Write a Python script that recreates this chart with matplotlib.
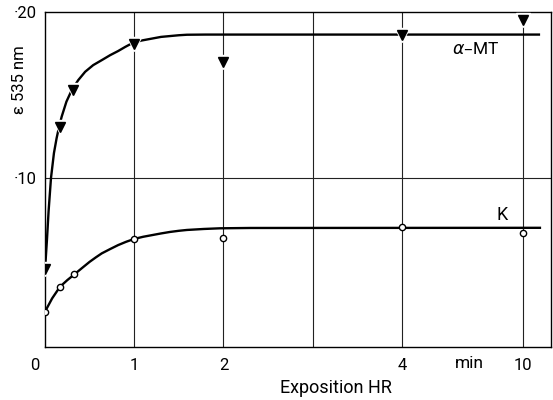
import numpy as np
import matplotlib
matplotlib.use('Agg')
import matplotlib.pyplot as plt
from matplotlib.transforms import ScaledTranslation

plt.rcParams['font.family'] = ['Roboto', 'DejaVu Sans']

# measured points (minutes, extinction)
mt_x = [0, 0.17, 0.31, 1, 2, 4, 10]
mt_y = [4.5, 13.1, 15.3, 18.1, 17.0, 18.6, 19.5]
k_x = [0, 0.17, 0.33, 1, 2, 4, 10]
k_y = [1.95, 3.45, 4.2, 6.3, 6.4, 7.05, 6.7]

# hand drawn curves
mt_curve_x = [0, 0.01, 0.022, 0.04, 0.067, 0.1, 0.13, 0.157, 0.187, 0.24, 0.30,
              0.373, 0.45, 0.54, 0.636, 0.73, 0.82, 0.9, 0.97, 1.08, 1.2,
              1.3, 1.4, 1.5, 1.59, 1.8, 2.0, 10.8]
mt_curve_y = [4.5, 5.3, 6.3, 8.0, 10.0, 11.5, 12.4, 13.07, 13.7, 14.6, 15.3,
              15.9, 16.4, 16.8, 17.1, 17.4, 17.65, 17.9, 18.1, 18.28, 18.4,
              18.5, 18.55, 18.6, 18.63, 18.64, 18.64, 18.64]
k_curve_x = [0, 0.08, 0.168, 0.25, 0.33, 0.42, 0.5, 0.57, 0.636, 0.73, 0.82,
             0.91, 1.0, 1.1, 1.21, 1.3, 1.4, 1.5, 1.59, 1.78, 1.96, 2.3, 10.85]
k_curve_y = [1.95, 2.75, 3.45, 3.85, 4.2, 4.6, 4.95, 5.22, 5.46, 5.72, 5.96,
             6.16, 6.33, 6.46, 6.57, 6.66, 6.75, 6.82, 6.87, 6.93, 6.97, 6.99, 7.0]

x_ticks = [0, 1, 2, 4, 10]
x_grid = [1, 2, 3, 4, 10]
y_ticks = [10, 20]

# axis is linear up to 4 min, then compressed
def fwd(x):
    x = np.asarray(x, dtype=float)
    return np.where(x <= 4, x, 4 + (x - 4) * 1.355 / 6)


def inv(u):
    u = np.asarray(u, dtype=float)
    return np.where(u <= 4, u, 4 + (u - 4) * 6 / 1.355)


fig = plt.figure(figsize=(5.53, 4.0), dpi=100)
ax = fig.add_axes([0.0814, 0.1325, 0.915, 0.8375])
ax.set_xscale('function', functions=(fwd, inv))
ax.set_xlim(0, 11.4)
ax.set_ylim(-0.18, 20)

for x in x_grid:
    ax.axvline(x, color='#222222', lw=0.8, zorder=1)
ax.axhline(10, color='#222222', lw=0.8, zorder=1)

ax.plot(mt_curve_x, mt_curve_y, color='black', lw=1.7, zorder=2)
ax.plot(k_curve_x, k_curve_y, color='black', lw=1.7, zorder=2)

ax.plot(mt_x, mt_y, ls='none', marker='v', ms=10, color='white', zorder=3)
ax.plot(mt_x, mt_y, ls='none', marker='v', ms=7, color='black', zorder=4)
ax.plot(k_x, k_y, ls='none', marker='o', ms=4.5, mfc='white', mec='black',
        mew=1.0, zorder=4)

ax.text(7.65, 17.8, r'$\alpha$–MT', fontsize=12.5, ha='center', va='center')
ax.text(8.95, 7.75, 'K', fontsize=13, ha='center', va='center')
ax.text(7.35, -1.15, 'min', fontsize=12.5, ha='center', va='center')

ax.set_xticks(x_ticks)
ax.set_xticklabels([str(v) for v in x_ticks], fontsize=12)
ax.set_yticks(y_ticks)
ax.set_yticklabels(['·' + str(v) for v in y_ticks], fontsize=12)
ax.tick_params(length=0, pad=6)
ax.tick_params(axis='x', pad=8)
lbl0 = ax.get_xticklabels()[0]
lbl0.set_transform(lbl0.get_transform() + ScaledTranslation(-0.1, 0, fig.dpi_scale_trans))
ax.minorticks_off()

for s in ax.spines.values():
    s.set_linewidth(1.0)

fig.text(336 / 553, 1 - 388 / 400, 'Exposition HR', fontsize=13,
         ha='center', va='center')
fig.text(19 / 553, 1 - 80 / 400, 'ε 535 nm', rotation=90, fontsize=12,
         ha='center', va='center')

fig.savefig('out.png', dpi=100)
